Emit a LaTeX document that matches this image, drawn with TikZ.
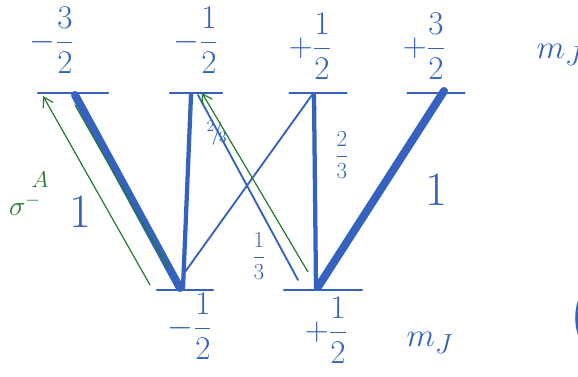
\documentclass[tikz,border=0pt]{standalone}
\usepackage{tikz}
\usetikzlibrary{arrows.meta,positioning,calc}
\definecolor{pen}{RGB}{52,98,190}
\definecolor{pol}{RGB}{34,122,44}
\newcommand{\hfr}[2]{{\displaystyle\frac{#1}{#2}}}

\begin{document}
\begin{tikzpicture}[
    x=0.0264cm, y=-0.0264cm,
    font=\Huge, text=pen,
    level/.style={inner sep=0pt, minimum height=0pt},
    line/.style={pen, line width=1.4pt, line cap=round},
    strong/.style={pen, line width=6pt, line cap=round},
    medium/.style={pen, line width=3.2pt, line cap=round},
    sig/.style={pol, line width=0.9pt},
    sigarr/.style={sig, -{Straight Barb[length=2.5mm,width=3mm]}},
    wt/.style={text=pen, font=\LARGE},
    one/.style={text=pen, font=\fontsize{36}{36}\selectfont}
  ]
  \useasboundingbox (0,0) rectangle (578,376);
  % upper levels (name/x/width)
  \foreach \name/\x/\w in {ua/73/70, ub/196/52, uc/318/57, ud/436/57} {
    \node[level, minimum width=\w*0.0264cm] (\name) at (\x,93) {};
    \draw[line] (\name.west) -- (\name.east);
  }
  % lower levels
  \foreach \name/\x/\w in {la/185/56, lb/323/78} {
    \node[level, minimum width=\w*0.0264cm] (\name) at (\x,290) {};
    \draw[line] (\name.west) -- (\name.east);
  }
  % m_J labels
  \node (mua) at (52,40) {$-\hfr{3}{2}$};
  \node (mub) at (196,40) {$-\hfr{1}{2}$};
  \node (muc) at (310,46) {$+\hfr{1}{2}$};
  \node (mud) at (424,46) {$+\hfr{3}{2}$};
  \node (mju) at (560,55) {$m_J$};
  \node (mla) at (190,326) {$-\hfr{1}{2}$};
  \node (mlb) at (326,330) {$+\hfr{1}{2}$};
  \node (mjl) at (430,343) {$m_J$};
  \node[font=\fontsize{52}{52}\selectfont] (brk) at (582,318) {(};
  % transitions
  \draw[strong] ($(ua)+(2,2)$) -- ($(la)+(-5,-2)$);
  \draw[medium] ($(ub)+(-5,2)$) -- ($(la)+(-2,-2)$);
  \draw[line] ($(ub)+(2,2)$) -- ($(lb)+(-25,-10)$);
  \draw[line] ($(la)+(0,-18)$) -- ($(uc)+(-6,2)$);
  \draw[medium] ($(uc)+(-4,2)$) -- ($(lb)+(-7,-2)$);
  \draw[strong] ($(ud)+(8,-2)$) -- ($(lb)+(-5,-3)$);
  % strengths
  \node[one] (wa) at (80,212) {1};
  \node[wt] (wb) at (217,133) {$^2\!/\!_3$};
  \node[wt] (wc) at (259,256) {$\hfr{1}{3}$};
  \node[wt] (wd) at (342,155) {$\hfr{2}{3}$};
  \node[one] (we) at (436,190) {1};
  % sigma minus
  \draw[sigarr] ($(la)+(-35,-5)$) -- ($(ua)+(-30,3)$);
  \draw[sig] ($(la)+(-17,-22)$) -- ($(ua)+(2,12)$);
  \draw[sigarr] ($(lb)+(-15,-18)$) -- ($(ub)+(6,0)$);
  \node[text=pol, font=\huge] (sg) at (25,205) {$\sigma^{-}$};
  \node[text=pol, font=\LARGE, above right=-2pt and -14pt of sg] (sga) {$A$};
\end{tikzpicture}
\end{document}
